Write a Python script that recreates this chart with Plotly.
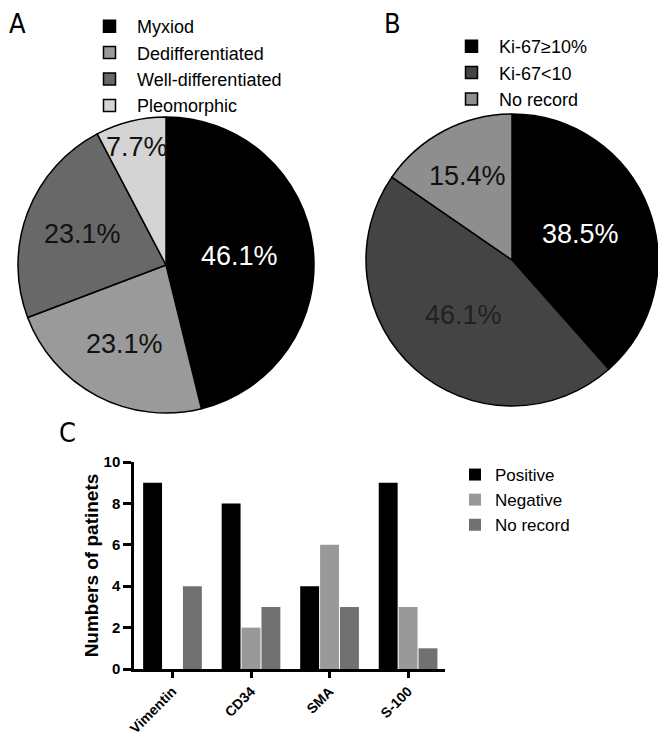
import math
import plotly.graph_objects as go

W, H = 658, 737

# ---- data ----
subtype_labels = ["Myxiod", "Dedifferentiated", "Well-differentiated", "Pleomorphic"]
subtype_counts = [6, 3, 3, 1]
subtype_text = ["46.1%", "23.1%", "23.1%", "7.7%"]

ki67_labels = ["Ki-67≥10%", "Ki-67<10", "No record"]
ki67_counts = [5, 6, 2]
ki67_text = ["38.5%", "46.1%", "15.4%"]

markers = ["Vimentin", "CD34", "SMA", "S-100"]
positive = [9, 8, 4, 9]
negative = [0, 2, 6, 3]
no_record = [4, 3, 3, 1]
y_ticks = [0, 2, 4, 6, 8, 10]

# ---- styles ----
colors_A = ["#000000", "#9a9a9a", "#686868", "#d4d4d4"]
colors_B = ["#000000", "#444444", "#8e8e8e"]
text_colors_A = ["white", "#111111", "#111111", "#111111"]
text_colors_B = ["white", "#222222", "#111111"]
label_r_A = [0.5, 0.6, 0.6, 0.82]
label_r_B = [0.5, 0.5, 0.65]
bar_colors = ["#000000", "#999999", "#717171"]
FONT = "Liberation Sans, Arial, sans-serif"
NARROW = "Liberation Sans Narrow, DejaVu Sans Condensed, sans-serif"

# pie geometry (pixels)
pieA = dict(cx=166, cy=265, r=148)
pieB = dict(cx=512, cy=260, r=146)


def dom(p):
    return dict(x=[(p["cx"] - p["r"]) / W, (p["cx"] + p["r"]) / W],
                y=[1 - (p["cy"] + p["r"]) / H, 1 - (p["cy"] - p["r"]) / H])


fig = go.Figure()

fig.add_trace(go.Pie(
    labels=subtype_labels, values=subtype_counts, sort=False, direction="clockwise",
    rotation=0, domain=dom(pieA), textinfo="none", hoverinfo="label+percent",
    marker=dict(colors=colors_A, line=dict(color="black", width=1.5)),
    legend="legend",
))
fig.add_trace(go.Pie(
    labels=ki67_labels, values=ki67_counts, sort=False, direction="clockwise",
    rotation=0, domain=dom(pieB), textinfo="none", hoverinfo="label+percent",
    marker=dict(colors=colors_B, line=dict(color="black", width=1.5)),
    legend="legend2",
))

for name, vals, col in zip(["Positive", "Negative", "No record"],
                           [positive, negative, no_record], bar_colors):
    fig.add_trace(go.Bar(
        x=markers, y=vals, name=name, marker=dict(color=col, line=dict(width=0)),
        xaxis="x", yaxis="y", legend="legend3",
    ))

annotations = []


def pie_labels(p, vals, texts, tcolors, rfr):
    total = sum(vals)
    cum = 0
    for v, t, c, f in zip(vals, texts, tcolors, rfr):
        mid = (cum + v / 2) / total * 2 * math.pi
        cum += v
        px = p["cx"] + f * p["r"] * math.sin(mid)
        py = p["cy"] - f * p["r"] * math.cos(mid)
        annotations.append(dict(
            x=px / W, y=1 - py / H, xref="paper", yref="paper", text=t,
            showarrow=False, font=dict(family=FONT, size=27, color=c),
            xanchor="center", yanchor="middle"))


pie_labels(pieA, subtype_counts, subtype_text, text_colors_A, label_r_A)
pie_labels(pieB, ki67_counts, ki67_text, text_colors_B, label_r_B)

for letter, x, y in [("A", 7, 6), ("B", 382, 6), ("C", 57, 415)]:
    annotations.append(dict(
        x=x / W, y=1 - y / H, xref="paper", yref="paper", text=letter,
        showarrow=False, xanchor="left", yanchor="top",
        font=dict(family=NARROW, size=27, color="black")))

fig.update_layout(
    template="none",
    width=W, height=H, margin=dict(l=0, r=0, t=0, b=0, autoexpand=False),
    paper_bgcolor="white", plot_bgcolor="white",
    font=dict(family=FONT, color="black"),
    barmode="group", bargap=0.24, bargroupgap=0.05,
    annotations=annotations,
    xaxis=dict(domain=[134 / W, 445 / W], anchor="y", range=[-0.49, 3.47],
               automargin=False,
               showline=True, linecolor="black", linewidth=2.5,
               ticks="outside", ticklen=6, tickwidth=2.5, tickcolor="black",
               tickangle=-45, tickfont=dict(family=FONT, size=14, weight="bold"),
               showgrid=False, zeroline=False, fixedrange=True),
    yaxis=dict(domain=[1 - 669 / H, 1 - 462 / H], anchor="x", range=[0, 10],
               automargin=False,
               tickvals=y_ticks, showline=True, linecolor="black", linewidth=2.5,
               ticks="outside", ticklen=8, tickwidth=2.5, tickcolor="black",
               tickfont=dict(family=FONT, size=15, weight="bold"),
               title=dict(text="Numbers of patinets", standoff=0,
                          font=dict(family=FONT, size=19, weight="bold")),
               showgrid=False, zeroline=False, fixedrange=True),
    legend=dict(x=82 / W, y=1 - 8 / H, xanchor="left", yanchor="top",
                font=dict(family=FONT, size=18), bgcolor="rgba(0,0,0,0)",
                itemwidth=45, tracegroupgap=0),
    legend2=dict(x=444 / W, y=1 - 28 / H, xanchor="left", yanchor="top",
                 font=dict(family=FONT, size=18), bgcolor="rgba(0,0,0,0)",
                 itemwidth=45),
    legend3=dict(x=455 / W, y=1 - 457 / H, xanchor="left", yanchor="top",
                 font=dict(family=FONT, size=17), bgcolor="rgba(0,0,0,0)"),
)

fig.write_html("out.html", config={"displayModeBar": False},
               post_script="document.body.style.margin='0';"
                           "document.body.style.overflow='hidden';")
